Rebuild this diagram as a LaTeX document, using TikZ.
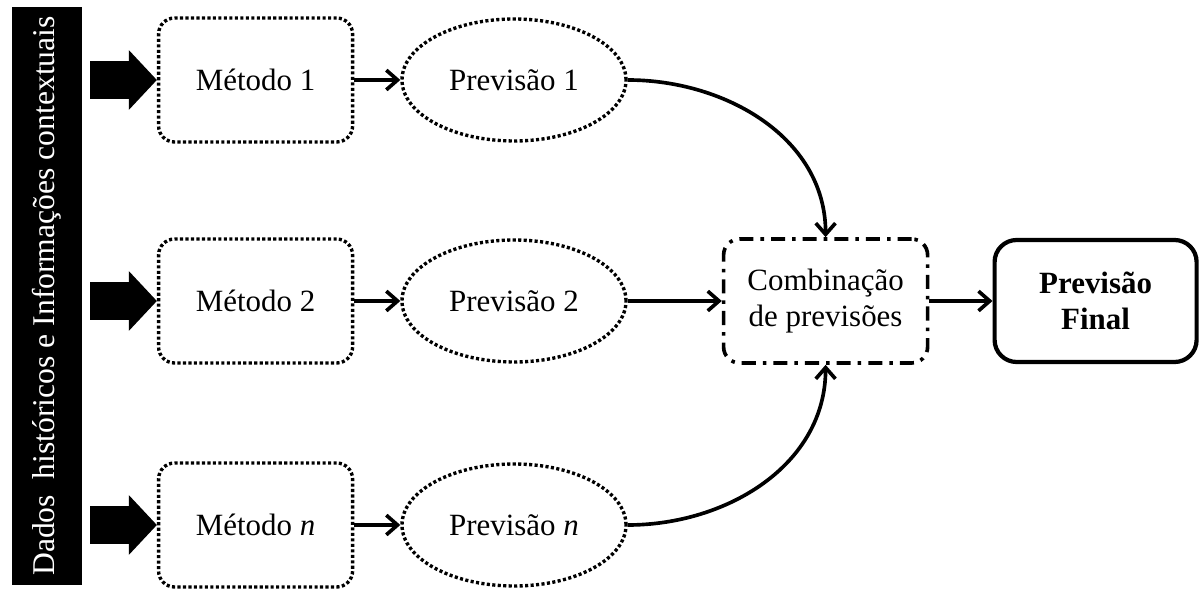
\documentclass[tikz,border=0pt]{standalone}
\usepackage{fontspec}
\setmainfont{Liberation Serif}
\usepackage{tikz}
\usetikzlibrary{arrows.meta}
\usetikzlibrary{positioning}
\usetikzlibrary{shapes.geometric}
\tikzset{every picture/.style={line width=2.6pt}}

\begin{document}
\begin{tikzpicture}[font=\fontsize{22}{26}\selectfont,
  metodo/.style={draw, rounded corners=0.4cm, line width=2.4pt, dash pattern={on 2.2pt off 1.7pt}, minimum width=4.85cm, minimum height=3.1cm},
  previsao/.style={draw, ellipse, line width=2.4pt, dash pattern={on 2.2pt off 1.7pt}, minimum width=5.6cm, minimum height=3.05cm},
  seta/.style={-{Straight Barb[length=8pt,width=14pt]}},
  grossa/.style={line width=0.95cm, -{Triangle[length=0.7cm,width=1.45cm]}}]
\useasboundingbox (0,0) rectangle (30,14.725);

\node (dados) at (1.175,7.325) [fill=black, text=white, rotate=90, minimum width=14.45cm, minimum height=1.75cm, font=\fontsize{22.5}{26}\selectfont] {Dados\ \ históricos e Informações contextuais};

\node (m1) at (6.39,12.725) [metodo] {Método 1};
\node (m2) at (6.39,7.2) [metodo] {Método 2};
\node (mn) at (6.39,1.6) [metodo] {Método \textit{n}};

\node (p1) at (12.85,12.725) [previsao] {Previsão 1};
\node (p2) at (12.85,7.2) [previsao] {Previsão 2};
\node (pn) at (12.85,1.6) [previsao] {Previsão \textit{n}};

\node (comb) at (20.64,7.2) [draw, rounded corners=0.4cm, dash pattern={on 10pt off 5pt on 2.5pt off 5pt}, minimum width=5.1cm, minimum height=3.1cm, align=center] {Combinação\\de previsões};
\node (final) at (27.39,7.2) [draw, line width=3pt, rounded corners=0.55cm, minimum width=5.05cm, minimum height=3.05cm, align=center, font=\fontsize{22}{26}\selectfont\bfseries] {Previsão\\Final};

\coordinate (e1) at (2.25,12.725);
\coordinate (e2) at (2.25,7.2);
\coordinate (en) at (2.25,1.6);
\draw [grossa] (e1) -- (m1.west);
\draw [grossa] (e2) -- (m2.west);
\draw [grossa] (en) -- (mn.west);

\draw [seta] (m1) -- (p1);
\draw [seta] (m2) -- (p2);
\draw [seta] (mn) -- (pn);

\draw [seta] (p1.east) to[out=0, in=90] (comb.north);
\draw [seta] (p2) -- (comb);
\draw [seta] (pn.east) to[out=0, in=-90] (comb.south);
\draw [seta] (comb) -- (final);
\end{tikzpicture}
\end{document}
